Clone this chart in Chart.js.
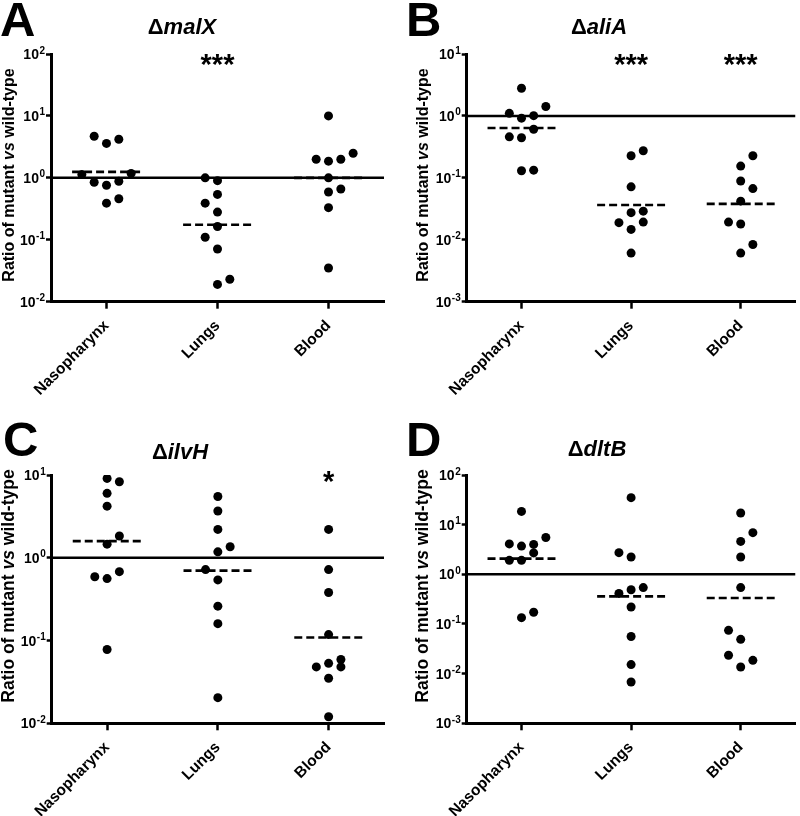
<!DOCTYPE html>
<html><head><meta charset="utf-8">
<script src="https://cdn.jsdelivr.net/npm/chart.js@4.4.1/dist/chart.umd.min.js"></script>
<style>
html,body{margin:0;padding:0;background:#fff;}
#wrap{position:relative;width:800px;height:816px;overflow:hidden;font-family:"Liberation Sans",Arial,Helvetica,sans-serif;color:#000;}
.panel{position:absolute;}
.panel canvas{display:block;}
.letter{position:absolute;font-weight:bold;font-size:49px;line-height:1;white-space:nowrap;}
.title{position:absolute;font-weight:bold;font-size:22px;line-height:1;white-space:nowrap;transform:translateX(-50%);}
.ylab{position:absolute;font-weight:bold;line-height:1;white-space:nowrap;transform:translate(-50%,-50%) rotate(-90deg);}
</style></head>
<body>
<div id="wrap">
  <div class="panel" style="left:0;top:0;width:400px;height:400px;"><canvas id="cA" width="400" height="400"></canvas></div>
  <div class="panel" style="left:400px;top:0;width:400px;height:400px;"><canvas id="cB" width="400" height="400"></canvas></div>
  <div class="panel" style="left:0;top:400px;width:400px;height:416px;"><canvas id="cC" width="400" height="416"></canvas></div>
  <div class="panel" style="left:400px;top:400px;width:400px;height:416px;"><canvas id="cD" width="400" height="416"></canvas></div>

  <div class="letter" style="left:0px;top:-5px;">A</div>
  <div class="letter" style="left:406px;top:-5px;">B</div>
  <div class="letter" style="left:3px;top:415px;">C</div>
  <div class="letter" style="left:406px;top:415px;">D</div>

  <div class="title" style="left:182px;top:16px;">Δ<i>malX</i></div>
  <div class="title" style="left:599px;top:16px;">Δ<i>aliA</i></div>
  <div class="title" style="left:180px;top:441px;">Δ<i>ilvH</i></div>
  <div class="title" style="left:597px;top:438px;">Δ<i>dltB</i></div>

  <div class="ylab" style="left:9px;top:175px;font-size:16px;">Ratio of mutant <i>vs</i> wild-type</div>
  <div class="ylab" style="left:423px;top:175px;font-size:16px;">Ratio of mutant <i>vs</i> wild-type</div>
  <div class="ylab" style="left:9px;top:586px;font-size:17.5px;">Ratio of mutant <i>vs</i> wild-type</div>
  <div class="ylab" style="left:423px;top:586px;font-size:17.5px;">Ratio of mutant <i>vs</i> wild-type</div>
</div>
<script>
// ---------------- DATA ----------------
const categories = ['Nasopharynx', 'Lungs', 'Blood'];

// Panel A: ΔmalX
const malX_naso   = [4.7, 3.6, 4.2, 1.13, 1.18, 0.85, 0.76, 0.88, 0.39, 0.46];
const malX_lungs  = [1.0, 0.9, 0.54, 0.39, 0.28, 0.164, 0.11, 0.071, 0.019, 0.023];
const malX_blood  = [10, 2.0, 1.86, 2.0, 2.5, 1.0, 0.59, 0.66, 0.33, 0.035];
const malX_median = [1.25, 0.175, 1.0];
const malX_sig    = ['', '***', ''];

// Panel B: ΔaliA
const aliA_naso   = [2.8, 1.1, 0.92, 1.01, 1.42, 0.61, 0.46, 0.445, 0.13, 0.133];
const aliA_lungs  = [0.274, 0.227, 0.0715, 0.029, 0.0274, 0.0189, 0.0193, 0.0147, 0.0061];
const aliA_blood  = [0.227, 0.155, 0.089, 0.067, 0.042, 0.0193, 0.018, 0.0084, 0.0061];
const aliA_median = [0.64, 0.0365, 0.038];
const aliA_sig    = ['', '***', '***'];

// Panel C: ΔilvH
const ilvH_naso   = [9.1, 8.3, 6.0, 4.2, 1.83, 1.46, 0.59, 0.56, 0.68, 0.078];
const ilvH_lungs  = [5.5, 3.67, 2.2, 1.18, 1.36, 0.72, 0.54, 0.26, 0.16, 0.0204];
const ilvH_blood  = [2.2, 0.72, 0.38, 0.118, 0.059, 0.048, 0.048, 0.053, 0.035, 0.012];
const ilvH_median = [1.59, 0.70, 0.109];
const ilvH_sig    = ['', '', '*'];

// Panel D: ΔdltB
const dltB_naso   = [18.5, 4.1, 3.7, 4.0, 5.5, 2.7, 1.91, 1.91, 0.134, 0.172];
const dltB_lungs  = [35, 2.73, 2.23, 0.41, 0.49, 0.54, 0.22, 0.056, 0.0152, 0.0068];
const dltB_blood  = [17.2, 6.9, 4.6, 2.23, 0.54, 0.0745, 0.049, 0.0234, 0.0185, 0.0136];
const dltB_median = [2.07, 0.36, 0.334];
const dltB_sig    = ['', '', ''];

// Scatter column (side-by-side slot) of each dot within its group
const malX_naso_slot  = [-1, 0, 1, -2, 2, -1, 0, 1, 0, 1];
const malX_lungs_slot = [-1, 0, 0, -1, 0, 0, -1, 0, 0, 1];
const malX_blood_slot = [0, -1, 0, 1, 2, 0, 0, 1, 0, 0];
const aliA_naso_slot  = [0, -1, 0, 1, 2, 1, -1, 0, 0, 1];
const aliA_lungs_slot = [1, 0, 0, 1, 0, -1, 1, 0, 0];
const aliA_blood_slot = [1, 0, 0, 1, 0, -1, 0, 1, 0];
const ilvH_naso_slot  = [0, 1, 0, 0, 1, 0, -1, 0, 1, 0];
const ilvH_lungs_slot = [0, 0, 0, 0, 1, -1, 0, 0, 0, 0];
const ilvH_blood_slot = [0, 0, 0, 0, 1, 1, -1, 0, 0, 0];
const dltB_naso_slot  = [0, -1, 0, 1, 2, 1, -1, 0, 0, 1];
const dltB_lungs_slot = [0, -1, 0, -1, 0, 1, 0, 0, 0, 0];
const dltB_blood_slot = [0, 1, 0, 0, 0, -1, 0, -1, 1, 0];

// ---------------- STYLE ----------------
const FONT = '"Liberation Sans", Arial, Helvetica, sans-serif';
const SLOT_W = 0.111;      // category units per scatter slot
const MED_HALF = 0.31;     // half-width of median dash line (category units)
const X_MIN = 0.5, X_MAX = 3.5;

// significance stars above groups
const sigPlugin = {
  id: 'sig',
  afterDatasetsDraw(chart, args, opts) {
    const ctx = chart.ctx, xs = chart.scales.x, area = chart.chartArea;
    ctx.save();
    ctx.fillStyle = '#000';
    ctx.font = 'bold 29px ' + FONT;
    ctx.textAlign = 'center';
    ctx.textBaseline = 'alphabetic';
    (opts.labels || []).forEach((s, i) => {
      if (!s) return;
      ctx.fillText(s, xs.getPixelForValue(i + 1), area.top + opts.dy + 16.5);
    });
    ctx.restore();
  }
};

// power-of-ten tick labels: "10" with a raised exponent
const powPlugin = {
  id: 'pow',
  afterDraw(chart) {
    const ctx = chart.ctx, ys = chart.scales.y, area = chart.chartArea;
    ctx.save();
    ctx.fillStyle = '#000';
    ctx.textBaseline = 'alphabetic';
    ctx.textAlign = 'right';
    ys.ticks.forEach(t => {
      const y = ys.getPixelForValue(t.value);
      const e = String(Math.round(Math.log10(t.value)));
      const xr = area.left - 6;
      ctx.font = 'bold 10px ' + FONT;
      const ew = ctx.measureText(e).width;
      ctx.fillText(e, xr, y - 0.5);
      ctx.font = 'bold 14px ' + FONT;
      ctx.fillText('10', xr - ew - 0.5, y + 5);
    });
    ctx.restore();
  }
};

function makeChart(id, groups, slots, medians, sig, yMin, yMax, pad, starDy) {
  const datasets = [];
  datasets.push({
    type: 'line', data: [{x: X_MIN, y: 1}, {x: X_MAX, y: 1}],
    borderColor: '#000', borderWidth: 2.5, pointRadius: 0, fill: false
  });
  medians.forEach((m, i) => datasets.push({
    type: 'line', data: [{x: i + 1 - MED_HALF, y: m}, {x: i + 1 + MED_HALF, y: m}],
    borderColor: '#000', borderWidth: 2.6, borderDash: [8, 4], pointRadius: 0, fill: false
  }));
  groups.forEach((vals, i) => datasets.push({
    type: 'scatter',
    data: vals.map((v, j) => ({x: i + 1 + slots[i][j] * SLOT_W, y: v})),
    backgroundColor: '#000', borderColor: '#000', borderWidth: 0, pointRadius: 4.5, pointHoverRadius: 4.5
  }));
  const decades = [];
  for (let e = Math.round(Math.log10(yMin)); e <= Math.round(Math.log10(yMax)); e++) decades.push(e);

  return new Chart(document.getElementById(id), {
    type: 'scatter',
    data: {datasets},
    options: {
      responsive: false, animation: false, devicePixelRatio: 1,
      layout: {padding: pad},
      plugins: {legend: {display: false}, tooltip: {enabled: false}, sig: {labels: sig, dy: starDy}},
      scales: {
        x: {
          type: 'linear', min: X_MIN, max: X_MAX,
          afterBuildTicks: s => { s.ticks = [1, 2, 3].map(v => ({value: v})); },
          afterFit: s => { s.height = 95; s.paddingLeft = 0; s.paddingRight = 0; },
          ticks: {
            callback: v => categories[v - 1], minRotation: 45, maxRotation: 45, autoSkip: false,
            color: '#000', font: {family: FONT, size: 15.5, weight: 'bold'}, padding: 8
          },
          grid: {drawOnChartArea: false, drawTicks: true, tickLength: 7, tickWidth: 2.5, tickColor: '#000'},
          border: {display: true, color: '#000', width: 3}
        },
        y: {
          type: 'logarithmic', min: yMin, max: yMax,
          afterBuildTicks: s => { s.ticks = decades.map(e => ({value: Math.pow(10, e)})); },
          afterFit: s => { s.width = 45; },
          ticks: {display: false},
          grid: {drawOnChartArea: false, drawTicks: true, tickLength: 5, tickWidth: 2.5, tickColor: '#000'},
          border: {display: true, color: '#000', width: 3}
        }
      }
    },
    plugins: [sigPlugin, powPlugin]
  });
}

makeChart('cA', [malX_naso, malX_lungs, malX_blood], [malX_naso_slot, malX_lungs_slot, malX_blood_slot],
  malX_median, malX_sig, 0.01, 100, {left: 6, top: 54, right: 16, bottom: 3.3}, 3);
makeChart('cB', [aliA_naso, aliA_lungs, aliA_blood], [aliA_naso_slot, aliA_lungs_slot, aliA_blood_slot],
  aliA_median, aliA_sig, 0.001, 10, {left: 21.7, top: 54, right: 0, bottom: 3.3}, 3);
makeChart('cC', [ilvH_naso, ilvH_lungs, ilvH_blood], [ilvH_naso_slot, ilvH_lungs_slot, ilvH_blood_slot],
  ilvH_median, ilvH_sig, 0.01, 10, {left: 6.7, top: 75, right: 16, bottom: -2.3}, -1);
makeChart('cD', [dltB_naso, dltB_lungs, dltB_blood], [dltB_naso_slot, dltB_lungs_slot, dltB_blood_slot],
  dltB_median, dltB_sig, 0.001, 100, {left: 21.7, top: 75, right: 0, bottom: -2.3}, 0);
</script>
</body></html>
